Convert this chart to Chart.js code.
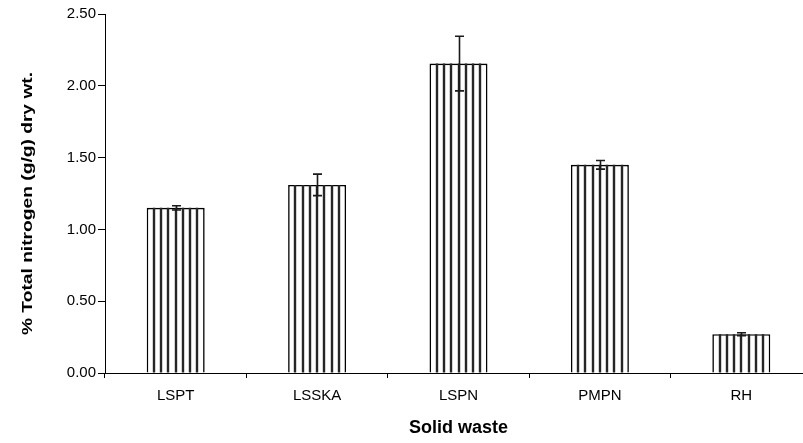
<!DOCTYPE html>
<html>
<head>
<meta charset="utf-8">
<script src="https://cdn.jsdelivr.net/npm/chart.js@4/dist/chart.umd.min.js"></script>
<style>
  html, body { margin: 0; padding: 0; background: #fff; overflow: hidden; }
  #wrap { width: 820px; height: 443px; }
</style>
</head>
<body>
<div id="wrap"><canvas id="chart" width="820" height="443"></canvas></div>
<script>
// Total nitrogen content of each solid waste (mean and error)
const categories = ['LSPT', 'LSSKA', 'LSPN', 'PMPN', 'RH'];
const nitrogen = [1.15, 1.31, 2.155, 1.45, 0.27];
const nitrogenError = [0.015, 0.075, 0.19, 0.03, 0.01];
const yTicks = [0, 0.5, 1.0, 1.5, 2.0, 2.5];
const yTitle = '% Total nitrogen (g/g) dry wt.';
const xTitle = 'Solid waste';

const FONT = "'Liberation Sans', Arial, sans-serif";

// Vertical hatching inside each bar
const stripePlugin = {
  id: 'stripes',
  afterDatasetsDraw(chart) {
    const ctx = chart.ctx;
    const meta = chart.getDatasetMeta(0);
    ctx.save();
    ctx.strokeStyle = '#262626';
    ctx.lineWidth = 2.4;
    meta.data.forEach(bar => {
      const { x, y, base, width } = bar.getProps(['x', 'y', 'base', 'width'], true);
      const left = x - width / 2;
      ctx.beginPath();
      for (let i = 1; i < 8; i++) {
        const sx = Math.round(left + i * width / 8);
        ctx.moveTo(sx, y);
        ctx.lineTo(sx, base);
      }
      ctx.stroke();
    });
    ctx.restore();
  }
};

// Error bars drawn from the data through the y scale
const errorBarPlugin = {
  id: 'errorBars',
  afterDatasetsDraw(chart) {
    const ctx = chart.ctx;
    const yScale = chart.scales.y;
    const meta = chart.getDatasetMeta(0);
    ctx.save();
    ctx.strokeStyle = '#1a1a1a';
    ctx.lineWidth = 1.6;
    meta.data.forEach((bar, i) => {
      const x = Math.round(bar.x) + 0.5;
      const hi = yScale.getPixelForValue(nitrogen[i] + nitrogenError[i]);
      const lo = yScale.getPixelForValue(nitrogen[i] - nitrogenError[i]);
      const cap = 4.5;
      ctx.beginPath();
      ctx.moveTo(x, hi); ctx.lineTo(x, lo);
      ctx.moveTo(x - cap, hi); ctx.lineTo(x + cap, hi);
      ctx.moveTo(x - cap, lo); ctx.lineTo(x + cap, lo);
      ctx.stroke();
    });
    ctx.restore();
  }
};

// Rotated y-axis title, slightly stretched along the axis
const yTitlePlugin = {
  id: 'yTitle',
  afterDraw(chart) {
    const ctx = chart.ctx;
    const area = chart.chartArea;
    ctx.save();
    ctx.translate(27.5, (area.top + area.bottom) / 2 + 10);
    ctx.rotate(-Math.PI / 2);
    ctx.scale(1.28, 1);
    ctx.font = "bold 15px " + FONT;
    ctx.fillStyle = '#000';
    ctx.textAlign = 'center';
    ctx.textBaseline = 'middle';
    ctx.fillText(yTitle, 0, 0);
    ctx.restore();
  }
};

new Chart(document.getElementById('chart'), {
  type: 'bar',
  data: {
    labels: categories,
    datasets: [{
      data: nitrogen,
      backgroundColor: '#ffffff',
      borderColor: '#000000',
      borderWidth: 1.6,
      barPercentage: 0.41,
      categoryPercentage: 1.0
    }]
  },
  options: {
    responsive: false,
    animation: false,
    layout: { padding: { left: 0, top: 14, right: 8, bottom: 0 } },
    plugins: { legend: { display: false }, tooltip: { enabled: false } },
    scales: {
      x: {
        offset: true,
        grid: { display: true, drawOnChartArea: false, drawTicks: true, tickLength: 5, color: '#000', offset: true },
        border: { display: true, color: '#000', width: 1 },
        ticks: { color: '#000', font: { family: FONT, size: 15 }, padding: 9 },
        title: { display: true, text: xTitle, color: '#000',
                 font: { family: FONT, size: 18, weight: 'bold' }, padding: { top: 0, bottom: 4.2 } },
        afterFit(scale) { scale.height = 70; }
      },
      y: {
        min: 0, max: 2.5,
        afterBuildTicks(scale) { scale.ticks = yTicks.map(v => ({ value: v })); },
        grid: { display: true, drawOnChartArea: false, drawTicks: true, tickLength: 7, color: '#000' },
        border: { display: true, color: '#000', width: 1 },
        ticks: { color: '#000', font: { family: FONT, size: 15 }, padding: 2,
                 callback: v => Number(v).toFixed(2) },
        title: { display: false },
        afterFit(scale) { scale.width = 105; }
      }
    }
  },
  plugins: [stripePlugin, errorBarPlugin, yTitlePlugin]
});
</script>
</body>
</html>
